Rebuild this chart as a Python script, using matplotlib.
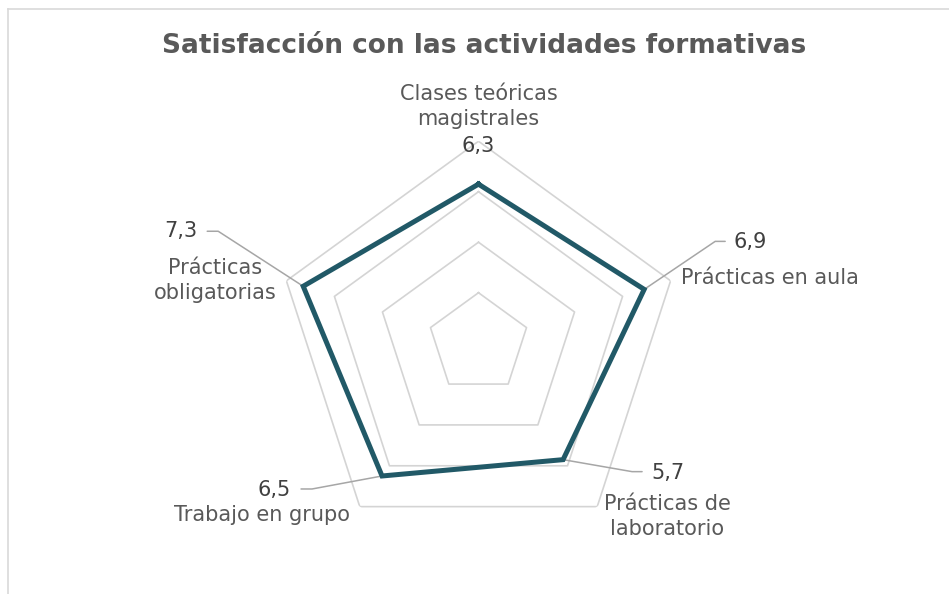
import numpy as np
import matplotlib
matplotlib.use("Agg")
import matplotlib.pyplot as plt
from matplotlib.lines import Line2D

# ---- data ----
categories = ["Clases teóricas\nmagistrales", "Prácticas en aula", "Prácticas de\nlaboratorio",
              "Trabajo en grupo", "Prácticas\nobligatorias"]
values = [6.3, 6.9, 5.7, 6.5, 7.3]
value_labels = ["6,3", "6,9", "5,7", "6,5", "7,3"]
grid_levels = [2, 4, 6, 8]
r_max = 8

# ---- style / layout ----
line_color = "#215967"
grid_color = "#d4d4d4"
leader_color = "#a6a6a6"
cat_color = "#595959"
val_color = "#404040"
fs = 15

# label placement (pixel offsets)
val_offsets = [(0, 38), (89, 47), (88, -13), (-91, -14), (-106, 55)]
val_ha = ["center", "left", "left", "right", "right"]
leaders = [None, [(71, 48), (81, 48)], [(69, -12), (79, -12)],
           [(-70, -13), (-81, -13)], [(-85, 55), (-96, 55)]]
cat_offsets = [(0, 35), (10, 3), (70, -10), (-98, -8), (-71, 0)]
cat_ha = ["center", "left", "center", "center", "center"]

fig = plt.figure(figsize=(9.49, 5.94), dpi=100)
fig.patch.set_facecolor("white")
ax = fig.add_axes([0.29136, 0.08215, 0.4257, 0.6801], projection="polar")
ax.set_theta_offset(np.pi / 2)
ax.set_theta_direction(-1)
ax.set_ylim(0, r_max)
ax.axis("off")

n = len(categories)
angles = np.linspace(0, 2 * np.pi, n, endpoint=False)
closed_angles = np.r_[angles, angles[0]]

for lvl in grid_levels:
    ax.plot(closed_angles, [lvl] * (n + 1), color=grid_color, lw=1.2, zorder=1)

ax.plot(closed_angles, values + values[:1], color=line_color, lw=3.6,
        solid_joinstyle="miter", zorder=3)

for i in range(n):
    # leader lines
    if leaders[i] is not None:
        (cx, cy), (ex, ey) = leaders[i]
        angB = np.degrees(np.arctan2(cy, cx))
        ax.annotate("", xy=(angles[i], values[i]), xytext=(ex, ey),
                    textcoords="offset pixels",
                    arrowprops=dict(arrowstyle="-", color=leader_color, lw=1.1,
                                    shrinkA=0, shrinkB=0,
                                    connectionstyle=f"angle,angleA=0,angleB={angB},rad=0"),
                    zorder=2)
    ax.annotate(value_labels[i], xy=(angles[i], values[i]), xytext=val_offsets[i],
                textcoords="offset pixels", ha=val_ha[i], va="center",
                fontsize=fs, color=val_color, zorder=4)
    ax.annotate(categories[i], xy=(angles[i], r_max), xytext=cat_offsets[i],
                textcoords="offset pixels", ha=cat_ha[i], va="center",
                multialignment="center", fontsize=fs, color=cat_color,
                linespacing=1.3, zorder=4)

fig.text(484.5 / 949, 1 - 46 / 594, "Satisfacción con las actividades formativas",
         ha="center", va="center", fontsize=19, fontweight="bold", color="#595959")

# chart-area border (left and top edges visible)
W, H = 949, 594
fig.add_artist(Line2D([7.5 / W, 7.5 / W], [0, 1 - 9 / H], color="#d9d9d9", lw=1.2))
fig.add_artist(Line2D([7.5 / W, 1], [1 - 9 / H, 1 - 9 / H], color="#d9d9d9", lw=1.2))

fig.savefig("out.png", dpi=100, facecolor="white")
